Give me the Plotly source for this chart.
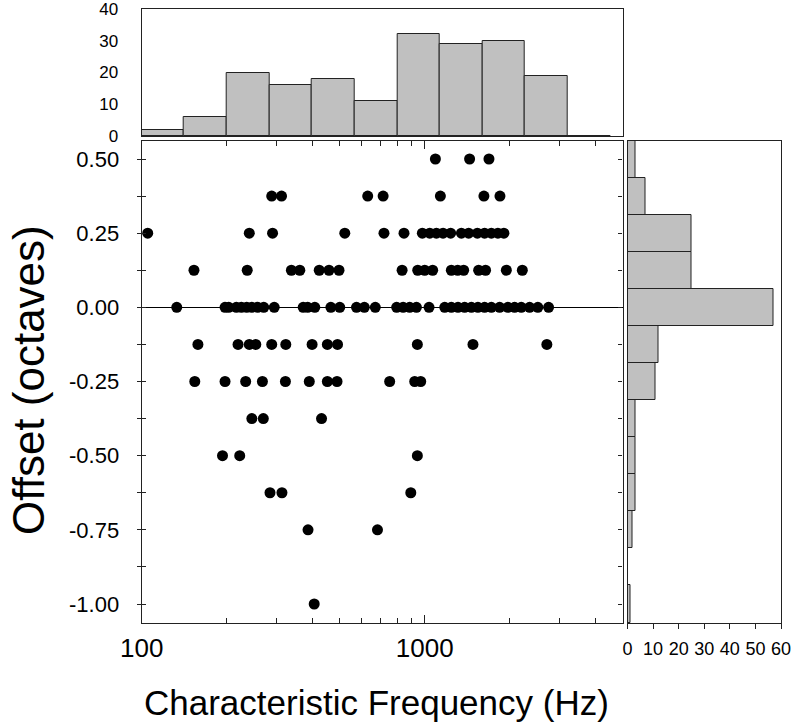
import numpy as np
import plotly.graph_objects as go

# ---------------- data ----------------
# scatter: characteristic frequency (Hz) and offset (octaves), grouped by offset row
cf_050 = [1091, 1441, 1687]
cf_0375 = [288, 312, 629, 713, 1136, 1619, 1845]
cf_025 = [105, 240, 290, 522, 718, 845, 981, 1042, 1100, 1161, 1235, 1348, 1430,
          1535, 1628, 1720, 1814, 1905]
cf_0125 = [153, 236, 338, 362, 424, 459, 498, 832, 945, 1000, 1067, 1242, 1308,
           1373, 1551, 1641, 1943, 2213]
cf_000 = [133, 197, 203, 216, 225, 235, 245, 257, 270, 294, 372, 386, 409, 466, 501,
          574, 612, 669, 796, 839, 885, 935, 1036, 1177, 1242, 1311, 1384, 1462,
          1542, 1628, 1720, 1840, 1968, 2078, 2194, 2348, 2511, 2740]
cf_m0125 = [158, 219, 240, 253, 288, 323, 400, 453, 492, 942, 1481, 2702]
cf_m025 = [154, 197, 233, 267, 322, 391, 453, 490, 752, 922, 968]
cf_m0375 = [245, 269, 432]
cf_m050 = [193, 222, 942]
cf_m0625 = [284, 313, 893]
cf_m075 = [387, 681]
cf_m100 = [407]

rows = [(0.5, cf_050), (0.375, cf_0375), (0.25, cf_025), (0.125, cf_0125),
        (0.0, cf_000), (-0.125, cf_m0125), (-0.25, cf_m025), (-0.375, cf_m0375),
        (-0.5, cf_m050), (-0.625, cf_m0625), (-0.75, cf_m075), (-1.0, cf_m100)]
scatter_cf = [f for _, fs in rows for f in fs]
scatter_off = [o for o, fs in rows for _ in fs]

# top histogram: half-octave bins of CF (Hz)
cf_bin_edges = [100, 141, 200, 283, 400, 566, 800, 1131, 1600, 2263, 3200, 4525]
cf_counts = [2, 6, 20, 16, 18, 11, 32, 29, 30, 19, 0]

# right histogram: offset bins (octaves)
offset_bins = [0.5, 0.375, 0.25, 0.125, 0.0, -0.125, -0.25, -0.375, -0.5,
               -0.625, -0.75, -0.875, -1.0]
offset_counts = [3, 7, 25, 25, 57, 12, 11, 3, 3, 3, 2, 0, 1]

# tick labels
y_tickvals = [0.5, 0.25, 0.0, -0.25, -0.5, -0.75, -1.0]
y_ticktext = ["0.50", "0.25", "0.00", "-0.25", "-0.50", "-0.75", "-1.00"]
y_minor = [0.375, 0.125, -0.125, -0.375, -0.625, -0.875]
x_tickvals = [100, 1000]
x_ticktext = ["100", "1000"]
x_minor = [200, 300, 400, 500, 600, 700, 800, 900, 2000, 3000, 4000]
hist_y_ticks = [0, 10, 20, 30, 40]
hist_x_ticks = [0, 10, 20, 30, 40, 50, 60]

# ---------------- figure ----------------
W, H = 793, 726
LINE = "#222222"
SANS = "Liberation Sans, Arial, sans-serif"

x_dom = [141.7 / W, 622.5 / W]
y_dom = [(H - 623) / H, (H - 141) / H]
top_dom = [(H - 136) / H, (H - 9) / H]
right_dom = [627.5 / W, 781 / W]
x_rng = [2.0, np.log10(5000)]
y_rng = [-1.064, 0.5607]

fig = go.Figure()

fig.add_trace(go.Scatter(
    x=scatter_cf, y=scatter_off, mode="markers",
    marker=dict(color="black", size=11, line=dict(width=0)),
    xaxis="x", yaxis="y", showlegend=False, hoverinfo="skip"))

# invisible trace for the overlay axis giving crossing ticks on the left
fig.add_trace(go.Scatter(x=[None], y=[None], xaxis="x", yaxis="y5",
                         showlegend=False, hoverinfo="skip"))

lo = np.log10(cf_bin_edges[:-1])
hi = np.log10(cf_bin_edges[1:])
fig.add_trace(go.Bar(
    x=(lo + hi) / 2, y=cf_counts, width=hi - lo,
    marker=dict(color="#c0c0c0", line=dict(color=LINE, width=1)),
    xaxis="x2", yaxis="y2", showlegend=False, hoverinfo="skip"))

fig.add_trace(go.Bar(
    y=offset_bins, x=offset_counts, orientation="h", width=0.125,
    marker=dict(color="#c0c0c0", line=dict(color=LINE, width=1)),
    xaxis="x3", yaxis="y3", showlegend=False, hoverinfo="skip"))

fig.update_layout(
    width=W, height=H, margin=dict(l=0, r=0, t=0, b=0, pad=0, autoexpand=False),
    paper_bgcolor="white", plot_bgcolor="white", bargap=0,
    xaxis=dict(type="log", domain=x_dom, range=x_rng, anchor="y", automargin=False,
               showline=True, linecolor=LINE, linewidth=1.2, mirror="ticks",
               ticks="inside", ticklen=8, tickcolor=LINE, tickwidth=1,
               tickvals=x_tickvals, ticktext=x_ticktext, tickangle=0,
               minor=dict(tickvals=x_minor, ticks="inside", ticklen=5,
                          tickcolor=LINE, tickwidth=1, showgrid=False),
               showgrid=False, zeroline=False, ticklabelstandoff=2,
               tickfont=dict(family=SANS, size=26, color="black")),
    yaxis=dict(domain=y_dom, range=y_rng, anchor="x", automargin=False,
               showline=True, linecolor=LINE, linewidth=1.2, mirror="ticks",
               ticks="inside", ticklen=4, tickcolor=LINE, tickwidth=1,
               tickvals=y_tickvals, ticktext=y_ticktext,
               minor=dict(tickvals=y_minor, ticks="inside", ticklen=4,
                          tickcolor=LINE, tickwidth=1, showgrid=False),
               showgrid=False, zeroline=True, zerolinecolor="black",
               zerolinewidth=1.2, ticklabelstandoff=17,
               tickfont=dict(family=SANS, size=22, color="black")),
    yaxis5=dict(overlaying="y", anchor="x", side="left", range=y_rng,
                automargin=False,
                ticks="outside", ticklen=4, tickcolor=LINE, tickwidth=1,
                tickvals=y_tickvals + y_minor, showticklabels=False,
                showline=False, showgrid=False, zeroline=False),
    xaxis2=dict(domain=x_dom, range=x_rng, anchor="y2", showline=True,
                automargin=False,
                linecolor=LINE, linewidth=1.2, mirror=True, ticks="",
                showticklabels=False, showgrid=False, zeroline=False),
    yaxis2=dict(domain=top_dom, range=[0, 40], anchor="x2", showline=True,
                automargin=False,
                linecolor=LINE, linewidth=1.2, mirror=True, ticks="",
                tickvals=hist_y_ticks, showgrid=False, zeroline=False,
                ticklabelstandoff=19, ticklabeloverflow="allow",
                tickfont=dict(family=SANS, size=17, color="black")),
    xaxis3=dict(domain=right_dom, range=[0, 60], anchor="y3", showline=True,
                automargin=False,
                linecolor=LINE, linewidth=1.2, mirror=True, ticks="outside",
                ticklen=5, tickcolor=LINE, tickwidth=1, tickvals=hist_x_ticks,
                tickangle=0, showgrid=False, zeroline=False,
                ticklabelstandoff=4, ticklabeloverflow="allow",
                tickfont=dict(family=SANS, size=18, color="black")),
    yaxis3=dict(domain=y_dom, range=y_rng, anchor="x3", showline=True,
                automargin=False,
                linecolor=LINE, linewidth=1.2, mirror=True, ticks="",
                showticklabels=False, showgrid=False, zeroline=False),
    annotations=[
        dict(text="Characteristic Frequency (Hz)", xref="paper", yref="paper",
             x=376 / W, y=(H - 702) / H, xanchor="center", yanchor="middle",
             showarrow=False, font=dict(family=SANS, size=35, color="black")),
        dict(text="Offset (octaves)", xref="paper", yref="paper",
             x=29 / W, y=(H - 380) / H, xanchor="center", yanchor="middle",
             textangle=-90, showarrow=False,
             font=dict(family=SANS, size=44, color="black")),
    ],
)

# the page's default 8px body margin would shift the figure; remove it
fig.write_html("out.html", config={"displayModeBar": False},
               post_script="document.body.style.margin='0';")
